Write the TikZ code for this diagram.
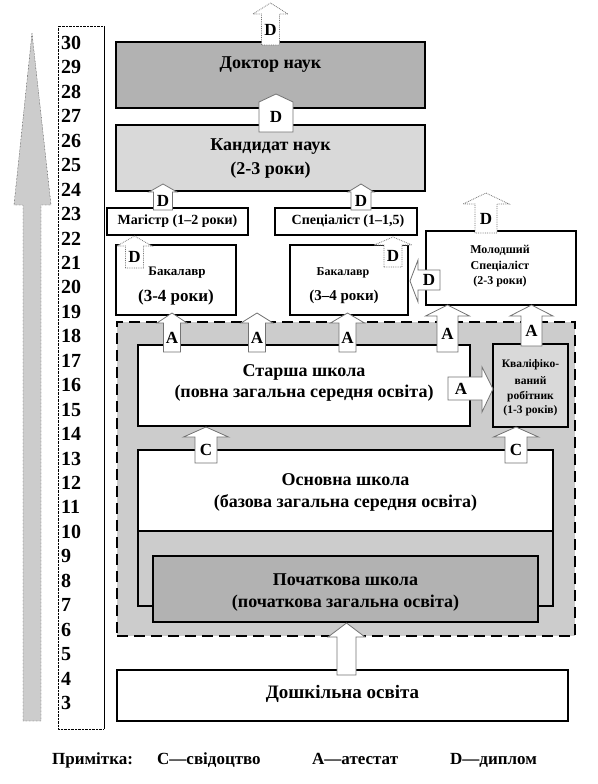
\documentclass[tikz,border=0pt]{standalone}
\usepackage{fontspec}
\setmainfont{Liberation Serif}
\usetikzlibrary{calc}
\newcommand{\fs}[1]{\fontsize{#1}{#1}\selectfont\bfseries}
% up arrow: #1 name, #2 cx, #3 tip y, #4 head base y, #5 bottom y, #6 shaft half, #7 head half, #8 style
\newcommand{\uparr}[8]{%
  \draw[#8] (#2-#6,#5) -- (#2-#6,#4) -- (#2-#7,#4) -- (#2,#3) -- (#2+#7,#4) -- (#2+#6,#4) -- (#2+#6,#5) -- cycle;
  \coordinate (#1) at (#2,{(#4+#5)/2});
}
\tikzset{
  box/.style={draw, line width=2pt, inner sep=0pt},
  txt/.style={inner sep=0pt, align=center},
  barrow/.style={draw=black!55, line width=0.8pt, fill=white},
  darrow/.style={draw=black!55, line width=0.8pt, densely dotted, fill=white},
  lbl/.style={inner sep=0pt, font=\fs{17}},
  leg/.style={anchor=base west, inner sep=0pt, font=\fs{17}},
}
\begin{document}
\begin{tikzpicture}[x=1pt, y=-1pt]
\useasboundingbox (0,0) rectangle (597,784);
% left big arrow
\draw[densely dotted, fill=black!20] (23,721) -- (23,205) -- (14,205) -- (32,33) -- (51,205) -- (41,205) -- (41,721) -- cycle;
% number column
\draw[densely dotted] (104,26) -- (58,26) -- (58,729) -- (104,729);
\draw[line width=0.8pt] (104,26) -- (104,729);
\foreach \n in {3,...,30} {
  \node[anchor=west, inner sep=0pt, font=\fs{20}] (n\n) at (61,{43+24.44*(30-\n)}) {\n};
}
% boxes
\node[box, fill=black!30, minimum width=309, minimum height=66] (doc) at (270.5,75) {};
\node[box, fill=black!15, minimum width=309, minimum height=66] (kand) at (270.5,158) {};
\node[box, fill=white, minimum width=141, minimum height=27] (mag) at (177.5,221.5) {};
\node[box, fill=white, minimum width=142, minimum height=27] (spec) at (346,221.5) {};
\node[box, fill=white, minimum width=120, minimum height=70] (bak1) at (176,280) {};
\node[box, fill=white, minimum width=118, minimum height=70] (bak2) at (349,280) {};
\node[box, fill=white, minimum width=150, minimum height=74] (mol) at (501,268) {};
\node[draw, line width=2pt, dash pattern=on 11pt off 6pt, fill=black!20, inner sep=0pt, minimum width=458, minimum height=314] (reg) at (346,479) {};
\node[box, fill=white, minimum width=332, minimum height=81] (star) at (304,385.5) {};
\node[box, fill=black!15, minimum width=75, minimum height=83] (kval) at (530.5,385.5) {};
\node[box, fill=black!20, minimum width=415, minimum height=156] (osnlow) at (345.5,528) {};
\node[box, fill=white, minimum width=415, minimum height=81] (osn) at (345.5,490.5) {};
\node[box, fill=black!30, minimum width=385, minimum height=66] (poch) at (345.5,589) {};
\node[box, fill=white, minimum width=451, minimum height=51] (dosh) at (342.5,695.5) {};
% texts
\node[txt, font=\fs{18}] (tdoc) at (270.5,65) {Доктор наук};
\node[txt, font=\fs{18}] (tkand1) at (270.5,147) {Кандидат наук};
\node[txt, font=\fs{18}] (tkand2) at (270.5,170) {(2-3 роки)};
\node[txt, font=\fs{14}] (tmag) at (177.5,221.5) {Магістр (1–2 роки)};
\node[txt, font=\fs{14}] (tspec) at (348,221.5) {Спеціаліст (1–1,5)};
\node[txt, font=\fs{13}] (tbak1a) at (177,273) {Бакалавр};
\node[txt, font=\fs{17}] (tbak1b) at (176,297) {(3-4 роки)};
\node[txt, font=\fs{12}] (tbak2a) at (343,273) {Бакалавр};
\node[txt, font=\fs{15}] (tbak2b) at (344,297) {(3–4 роки)};
\node[txt, font=\fs{12}] (tmol1) at (500,250) {Молодший};
\node[txt, font=\fs{12}] (tmol2) at (500,266) {Спеціаліст};
\node[txt, font=\fs{12}] (tmol3) at (500,282) {(2-3 роки)};
\node[txt, font=\fs{18}] (tstar1) at (304,372) {Старша школа};
\node[txt, font=\fs{18}] (tstar2) at (304,393) {(повна загальна середня освіта)};
\node[txt, font=\fs{11.5}] (tkv1) at (530.5,365) {Кваліфіко-};
\node[txt, font=\fs{11.5}] (tkv2) at (530.5,381) {ваний};
\node[txt, font=\fs{11.5}] (tkv3) at (530.5,397) {робітник};
\node[txt, font=\fs{11.5}] (tkv4) at (530.5,411) {(1-3 років)};
\node[txt, font=\fs{18}] (tosn1) at (345.5,480) {Основна школа};
\node[txt, font=\fs{18}] (tosn2) at (345.5,503) {(базова загальна середня освіта)};
\node[txt, font=\fs{18}] (tpoch1) at (345.5,580) {Початкова школа};
\node[txt, font=\fs{18}] (tpoch2) at (345.5,603) {(початкова загальна освіта)};
\node[txt, font=\fs{19}] (tdosh) at (342.5,694) {Дошкільна освіта};
% arrows
\uparr{a1}{270.5}{3}{14}{45}{9}{17.5}{darrow}
\node[lbl] at (a1) {D};
\uparr{a2}{276}{94}{102}{132}{17}{17}{barrow}
\node[lbl] at (a2) {D};
\uparr{a3}{163}{184}{192}{210}{9.5}{14}{barrow}
\node[lbl] at (a3) {D};
\uparr{a4}{361}{184}{192}{210}{10}{13}{barrow}
\node[lbl] at (a4) {D};
\uparr{a5}{134.5}{236}{246}{268}{9}{17.5}{darrow}
\node[lbl] at (a5) {D};
\uparr{a6}{393}{237}{245}{267}{9}{19}{darrow}
\node[lbl] at (a6) {D};
\uparr{a7}{486}{193}{204}{233}{11}{23}{darrow}
\node[lbl] at (a7) {D};
\uparr{a8}{172}{313}{323}{352}{8.5}{15}{barrow}
\node[lbl] at (a8) {A};
\uparr{a9}{257}{313}{323}{352}{8.5}{16}{barrow}
\node[lbl] at (a9) {A};
\uparr{a10}{347.5}{313}{323}{352}{8.5}{17}{barrow}
\node[lbl] at (a10) {A};
\uparr{a11}{447.5}{305}{316}{352}{10.5}{22}{barrow}
\node[lbl] at (a11) {A};
\uparr{a12}{531.5}{305}{316}{346}{10.5}{21.5}{barrow}
\node[lbl] at (a12) {A};
\uparr{a13}{206}{427}{437}{463}{11}{22.5}{barrow}
\node[lbl] at (a13) {C};
\uparr{a14}{516}{427}{437}{463}{11}{22.5}{barrow}
\node[lbl] at (a14) {C};
\uparr{a15}{346.5}{623}{637}{675}{9.5}{18.5}{barrow}
% right arrow Star -> Kval
\draw[barrow] (448,377) -- (482,377) -- (482,367) -- (493,389) -- (482,412) -- (482,400) -- (448,400) -- cycle;
\node[lbl] (a16) at (461,388.5) {A};
% left arrow Mol -> Bak2
\draw[barrow] (440,270) -- (418,270) -- (418,260) -- (410,281) -- (418,302) -- (418,290) -- (440,290) -- cycle;
\node[lbl] (a17) at (429,280) {D};
% legend
\node[leg] (l0) at (52,764) {Примітка:};
\node[leg] (l1) at (157,764) {C—свідоцтво};
\node[leg] (l2) at (312,764) {A—атестат};
\node[leg] (l3) at (450,764) {D—диплом};
\end{tikzpicture}
\end{document}
